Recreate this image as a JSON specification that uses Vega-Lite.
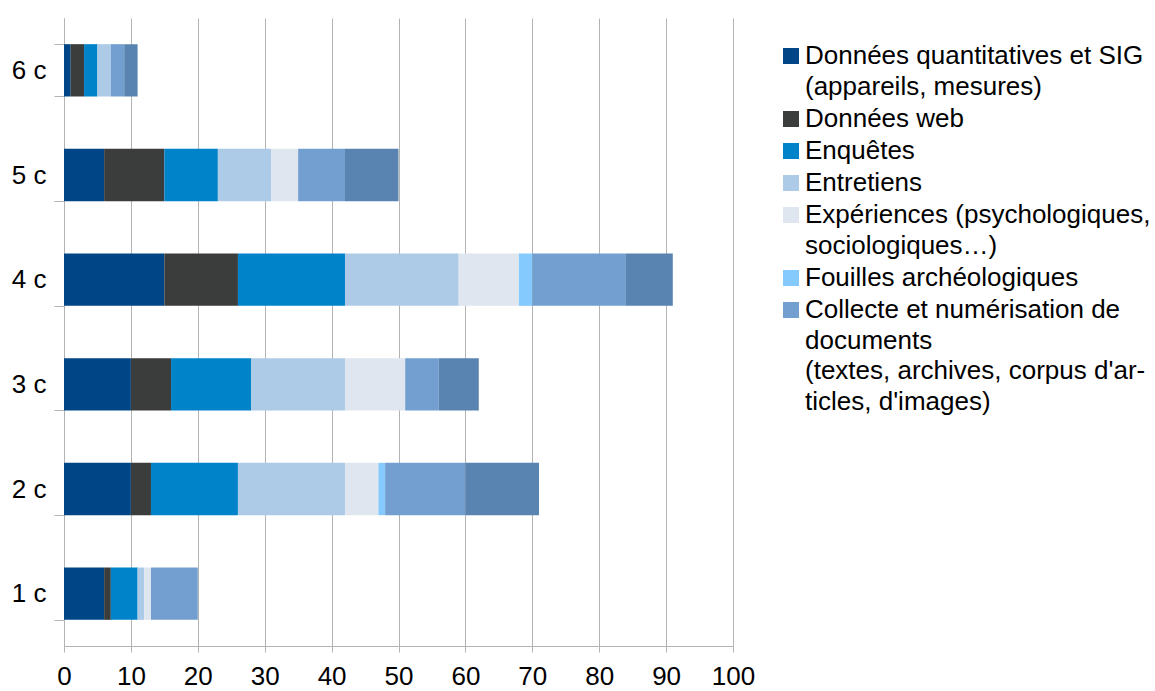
{
  "$schema": "https://vega.github.io/schema/vega-lite/v6.json",
  "autosize": "none",
  "width": 669,
  "height": 628,
  "padding": {"left": 64, "top": 18, "right": 422, "bottom": 45},
  "background": "white",
  "data": {
    "values": [
      {"c": "1 c", "s": "Données quantitatives et SIG\n(appareils, mesures)", "k": 1, "v": 6},
      {"c": "1 c", "s": "Données web", "k": 2, "v": 1},
      {"c": "1 c", "s": "Enquêtes", "k": 3, "v": 4},
      {"c": "1 c", "s": "Entretiens", "k": 4, "v": 1},
      {"c": "1 c", "s": "Expériences (psychologiques,\nsociologiques…)", "k": 5, "v": 1},
      {"c": "1 c", "s": "Fouilles archéologiques", "k": 6, "v": 0},
      {"c": "1 c", "s": "Collecte et numérisation de\ndocuments\n\u00a0(textes, archives, corpus d'ar-\nticles, d'images)", "k": 7, "v": 7},
      {"c": "1 c", "s": "Autres", "k": 8, "v": 0},
      {"c": "2 c", "s": "Données quantitatives et SIG\n(appareils, mesures)", "k": 1, "v": 10},
      {"c": "2 c", "s": "Données web", "k": 2, "v": 3},
      {"c": "2 c", "s": "Enquêtes", "k": 3, "v": 13},
      {"c": "2 c", "s": "Entretiens", "k": 4, "v": 16},
      {"c": "2 c", "s": "Expériences (psychologiques,\nsociologiques…)", "k": 5, "v": 5},
      {"c": "2 c", "s": "Fouilles archéologiques", "k": 6, "v": 1},
      {"c": "2 c", "s": "Collecte et numérisation de\ndocuments\n\u00a0(textes, archives, corpus d'ar-\nticles, d'images)", "k": 7, "v": 12},
      {"c": "2 c", "s": "Autres", "k": 8, "v": 11},
      {"c": "3 c", "s": "Données quantitatives et SIG\n(appareils, mesures)", "k": 1, "v": 10},
      {"c": "3 c", "s": "Données web", "k": 2, "v": 6},
      {"c": "3 c", "s": "Enquêtes", "k": 3, "v": 12},
      {"c": "3 c", "s": "Entretiens", "k": 4, "v": 14},
      {"c": "3 c", "s": "Expériences (psychologiques,\nsociologiques…)", "k": 5, "v": 9},
      {"c": "3 c", "s": "Fouilles archéologiques", "k": 6, "v": 0},
      {"c": "3 c", "s": "Collecte et numérisation de\ndocuments\n\u00a0(textes, archives, corpus d'ar-\nticles, d'images)", "k": 7, "v": 5},
      {"c": "3 c", "s": "Autres", "k": 8, "v": 6},
      {"c": "4 c", "s": "Données quantitatives et SIG\n(appareils, mesures)", "k": 1, "v": 15},
      {"c": "4 c", "s": "Données web", "k": 2, "v": 11},
      {"c": "4 c", "s": "Enquêtes", "k": 3, "v": 16},
      {"c": "4 c", "s": "Entretiens", "k": 4, "v": 17},
      {"c": "4 c", "s": "Expériences (psychologiques,\nsociologiques…)", "k": 5, "v": 9},
      {"c": "4 c", "s": "Fouilles archéologiques", "k": 6, "v": 2},
      {"c": "4 c", "s": "Collecte et numérisation de\ndocuments\n\u00a0(textes, archives, corpus d'ar-\nticles, d'images)", "k": 7, "v": 14},
      {"c": "4 c", "s": "Autres", "k": 8, "v": 7},
      {"c": "5 c", "s": "Données quantitatives et SIG\n(appareils, mesures)", "k": 1, "v": 6},
      {"c": "5 c", "s": "Données web", "k": 2, "v": 9},
      {"c": "5 c", "s": "Enquêtes", "k": 3, "v": 8},
      {"c": "5 c", "s": "Entretiens", "k": 4, "v": 8},
      {"c": "5 c", "s": "Expériences (psychologiques,\nsociologiques…)", "k": 5, "v": 4},
      {"c": "5 c", "s": "Fouilles archéologiques", "k": 6, "v": 0},
      {"c": "5 c", "s": "Collecte et numérisation de\ndocuments\n\u00a0(textes, archives, corpus d'ar-\nticles, d'images)", "k": 7, "v": 7},
      {"c": "5 c", "s": "Autres", "k": 8, "v": 8},
      {"c": "6 c", "s": "Données quantitatives et SIG\n(appareils, mesures)", "k": 1, "v": 1},
      {"c": "6 c", "s": "Données web", "k": 2, "v": 2},
      {"c": "6 c", "s": "Enquêtes", "k": 3, "v": 2},
      {"c": "6 c", "s": "Entretiens", "k": 4, "v": 2},
      {"c": "6 c", "s": "Expériences (psychologiques,\nsociologiques…)", "k": 5, "v": 0},
      {"c": "6 c", "s": "Fouilles archéologiques", "k": 6, "v": 0},
      {"c": "6 c", "s": "Collecte et numérisation de\ndocuments\n\u00a0(textes, archives, corpus d'ar-\nticles, d'images)", "k": 7, "v": 2},
      {"c": "6 c", "s": "Autres", "k": 8, "v": 2}
    ]
  },
  "mark": {"type": "bar"},
  "encoding": {
    "y": {
      "field": "c",
      "type": "nominal",
      "sort": ["6 c", "5 c", "4 c", "3 c", "2 c", "1 c"],
      "scale": {"paddingInner": 0.5, "paddingOuter": 0.25},
      "axis": {
        "title": null,
        "tickBand": "extent",
        "tickSize": 10,
        "labelPadding": 8,
        "grid": false
      }
    },
    "x": {
      "field": "v",
      "type": "quantitative",
      "stack": "zero",
      "scale": {"domain": [0, 100], "nice": false},
      "axis": {
        "title": null,
        "values": [0, 10, 20, 30, 40, 50, 60, 70, 80, 90, 100],
        "tickSize": 6,
        "labelPadding": 11,
        "labelFlush": false,
        "grid": true
      }
    },
    "order": {"field": "k", "type": "quantitative"},
    "color": {
      "field": "s",
      "type": "nominal",
      "scale": {
        "domain": [
          "Données quantitatives et SIG\n(appareils, mesures)",
          "Données web",
          "Enquêtes",
          "Entretiens",
          "Expériences (psychologiques,\nsociologiques…)",
          "Fouilles archéologiques",
          "Collecte et numérisation de\ndocuments\n\u00a0(textes, archives, corpus d'ar-\nticles, d'images)",
          "Autres"
        ],
        "range": ["#004586", "#3a3d3b", "#0083c9", "#adcbe7", "#dfe6f0", "#84cafe", "#729fcf", "#5983b0"]
      },
      "legend": {
        "title": null,
        "orient": "none",
        "legendX": 714,
        "legendY": 25,
        "padding": 0,
        "values": [
          "Données quantitatives et SIG\n(appareils, mesures)",
          "Données web",
          "Enquêtes",
          "Entretiens",
          "Expériences (psychologiques,\nsociologiques…)",
          "Fouilles archéologiques",
          "Collecte et numérisation de\ndocuments\n\u00a0(textes, archives, corpus d'ar-\nticles, d'images)"
        ],
        "labelExpr": "split(datum.label, '\\n')",
        "symbolType": "square",
        "symbolSize": 256,
        "symbolStrokeWidth": 0,
        "labelOffset": 1,
        "labelFontSize": 26,
        "labelLimit": 500,
        "rowPadding": 6
      }
    }
  },
  "config": {
    "font": "Liberation Sans",
    "view": {"stroke": null},
    "style": {"guide-label": {"lineHeight": 30.5}},
    "axis": {
      "labelFont": "Liberation Sans",
      "labelFontSize": 26,
      "labelColor": "#000000",
      "domainColor": "#b3b3b3",
      "tickColor": "#b3b3b3",
      "gridColor": "#b3b3b3",
      "domainWidth": 1,
      "tickWidth": 1
    },
    "legend": {"labelFont": "Liberation Sans", "labelColor": "#000000"}
  }
}
